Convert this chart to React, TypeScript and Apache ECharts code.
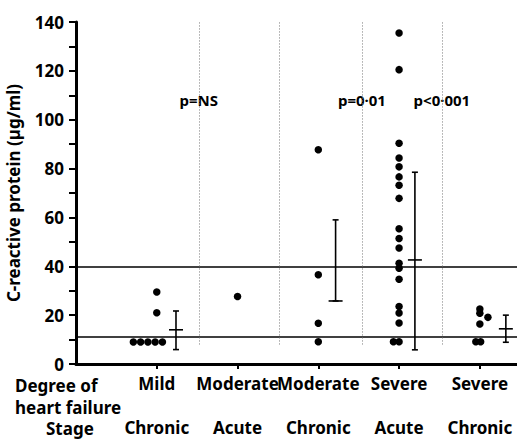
import React, { useEffect, useRef } from "react";
import * as echarts from "echarts";

// Categories (degree of heart failure) and stage, placed at x = 1..5
const degrees = ["Mild", "Moderate", "Moderate", "Severe", "Severe"];
const stages = ["Chronic", "Acute", "Chronic", "Acute", "Chronic"];
const categoryPos = [1, 2, 3, 4, 5];

// Individual CRP values (µg/ml) per group, with small horizontal jitter offsets
const mildValues = [29.5, 21, 9, 9, 9, 9, 9];
const mildOffsets = [0, 0, -0.29, -0.2, -0.11, -0.02, 0.07];
const modAcuteValues = [27.6];
const modAcuteOffsets = [0];
const modChronicValues = [87.7, 36.5, 16.7, 9.1];
const modChronicOffsets = [0, 0, 0, 0];
const sevAcuteValues = [135.5, 120.5, 90.4, 84.3, 80.7, 76.6, 73.2, 67.8, 55.4, 51.4, 47.5, 41.2, 39.2, 34.7, 23.5, 20.9, 16.8, 9.1, 9.1];
const sevAcuteOffsets = [0, 0, 0, 0, 0, 0, 0, 0, 0, 0, 0, 0, 0, 0, 0, 0, 0, -0.07, 0];
const sevChronicValues = [22.5, 20.8, 19.1, 16.4, 9.1, 9.1];
const sevChronicOffsets = [0, 0, 0.1, 0, -0.05, 0.01];

// Mean +/- range bars
const errX = [1.238, 3.214, 4.196, 5.322];
const errLow = [5.9, 25.8, 5.8, 8.9];
const errHigh = [21.7, 59, 78.5, 20];
const errMean = [14, 25.8, 42.6, 14.4];

// Reference lines and group dividers
const refLines = [40, 11.2];
const dividerX = [1.52, 2.52, 3.54, 4.53];
const dividerRange = [8, 140];

// p-value annotations
const pLabels = ["p=NS", "p=0·01", "p<0·001"];
const pLabelX = [1.52, 3.54, 4.53];
const pLabelY = 108;

const yTicks = [0, 20, 40, 60, 80, 100, 120, 140];

const FONT = "'Noto Sans', sans-serif";

function pts(base: number, values: number[], offsets: number[]) {
  return values.map((v, i) => [base + offsets[i], v]);
}

export default function App() {
  const ref = useRef<HTMLDivElement>(null);
  useEffect(() => {
    if (!ref.current) return;
    const chart = echarts.init(ref.current, undefined, { renderer: "svg" });
    const dotStyle = { color: "#000", opacity: 1 };
    const groups = [
      pts(categoryPos[0], mildValues, mildOffsets),
      pts(categoryPos[1], modAcuteValues, modAcuteOffsets),
      pts(categoryPos[2], modChronicValues, modChronicOffsets),
      pts(categoryPos[3], sevAcuteValues, sevAcuteOffsets),
      pts(categoryPos[4], sevChronicValues, sevChronicOffsets),
    ];
    const markData: any[] = [
      ...refLines.map((v) => ({ yAxis: v, lineStyle: { color: "#000", width: 1.6, type: "solid" } })),
      ...dividerX.map((x) => [
        { coord: [x, dividerRange[0]], lineStyle: { color: "#777", width: 1, type: [1, 2] } },
        { coord: [x, dividerRange[1]] },
      ]),
    ];
    const option: any = {
      animation: false,
      backgroundColor: "#fff",
      grid: { left: 76, right: 0, top: 22, bottom: 76, containLabel: false, outerBoundsMode: "none" },
      xAxis: {
        type: "value",
        min: 0,
        max: 5.46,
        interval: 1,
        splitLine: { show: false },
        axisLine: { show: true, onZero: false, lineStyle: { color: "#000", width: 3 } },
        axisTick: { show: true, customValues: categoryPos, length: 5, lineStyle: { color: "#000", width: 2 } },
        axisLabel: {
          customValues: categoryPos,
          formatter: (v: number) => {
            const i = Math.round(v) - 1;
            return degrees[i] + "\n\n" + stages[i];
          },
          color: "#000",
          fontFamily: FONT,
          fontWeight: "bold",
          fontSize: 17,
          lineHeight: 22,
          margin: 8,
        },
      },
      yAxis: {
        type: "value",
        min: 0,
        max: 140,
        interval: 20,
        name: "C-reactive protein (µg/ml)",
        nameLocation: "middle",
        nameGap: 54,
        nameRotate: 90,
        nameTextStyle: { color: "#000", fontFamily: FONT, fontWeight: "bold", fontSize: 17 },
        splitLine: { show: false },
        axisLine: { show: true, lineStyle: { color: "#000", width: 3 } },
        axisTick: { show: true, length: 7, lineStyle: { color: "#000", width: 2 } },
        minorTick: { show: true, splitNumber: 2, length: 7, lineStyle: { color: "#000", width: 2 } },
        axisLabel: {
          color: "#000",
          fontFamily: FONT,
          fontWeight: "bold",
          fontSize: 17,
          margin: 12,
          formatter: (v: number) => (yTicks.includes(v) ? String(v) : ""),
        },
      },
      series: [
        ...groups.map((g, gi) => ({
          type: "scatter",
          data: g,
          symbol: "circle",
          symbolSize: 7.5,
          itemStyle: dotStyle,
          silent: true,
          markLine:
            gi === 0
              ? { silent: true, symbol: "none", label: { show: false }, data: markData }
              : undefined,
        })),
        {
          type: "custom",
          silent: true,
          data: errX.map((x, i) => [x, errLow[i], errHigh[i], errMean[i]]),
          renderItem: (_p: any, api: any) => {
            const x = api.value(0);
            const lo = api.coord([x, api.value(1)]);
            const hi = api.coord([x, api.value(2)]);
            const m = api.coord([x, api.value(3)]);
            const st = { stroke: "#000", lineWidth: 1.6 };
            const cap = 3;
            const bar = 7;
            return {
              type: "group",
              children: [
                { type: "line", shape: { x1: lo[0], y1: lo[1], x2: hi[0], y2: hi[1] }, style: st },
                { type: "line", shape: { x1: hi[0] - cap, y1: hi[1], x2: hi[0] + cap, y2: hi[1] }, style: st },
                { type: "line", shape: { x1: lo[0] - cap, y1: lo[1], x2: lo[0] + cap, y2: lo[1] }, style: st },
                { type: "line", shape: { x1: m[0] - bar, y1: m[1], x2: m[0] + bar, y2: m[1] }, style: st },
              ],
            };
          },
        },
        {
          type: "scatter",
          silent: true,
          symbolSize: 0,
          itemStyle: { opacity: 1, color: "#000" },
          data: pLabels.map((t, i) => ({ name: t, value: [pLabelX[i], pLabelY] })),
          label: {
            show: true,
            position: "inside",
            formatter: "{b}",
            color: "#000",
            opacity: 1,
            fontFamily: FONT,
            fontWeight: "bold",
            fontSize: 15,
          },
        },
      ],
      graphic: [
        {
          type: "text",
          left: 15,
          top: 374,
          style: {
            text: "Degree of\nheart failure",
            fill: "#000",
            font: "bold 17px 'Noto Sans', sans-serif",
            lineHeight: 22,
          },
        },
        {
          type: "text",
          left: 46,
          top: 417,
          style: {
            text: "Stage",
            fill: "#000",
            font: "bold 17px 'Noto Sans', sans-serif",
            lineHeight: 22,
          },
        },
      ],
    };
    chart.setOption(option);
    return () => chart.dispose();
  }, []);
  return (
    <div
      ref={ref}
      style={{ position: "fixed", left: 0, top: 0, width: 517, height: 440, background: "#fff" }}
    />
  );
}
